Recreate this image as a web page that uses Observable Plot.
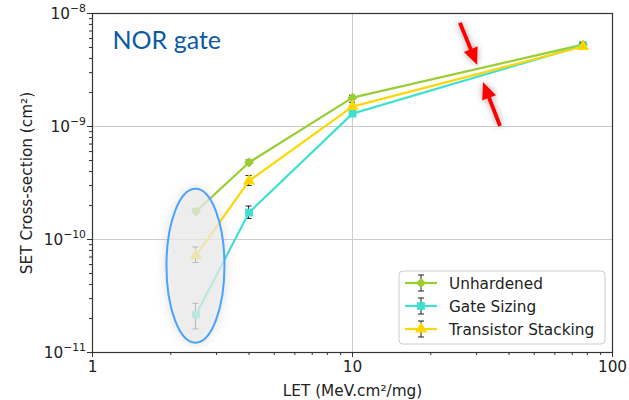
<!DOCTYPE html>
<html>
<head>
<meta charset="utf-8">
<script src="https://cdn.jsdelivr.net/npm/d3@7"></script>
<script src="https://cdn.jsdelivr.net/npm/@observablehq/plot@0.6"></script>
<style>
  html, body { margin: 0; padding: 0; background: #fff; }
  #chart { width: 629px; height: 400px; }
</style>
</head>
<body>
<div id="chart"></div>
<script>
// LET values (MeV.cm²/mg)
const letValues = [2.5, 4, 10, 77];

// SET cross-sections (cm²) with error-bar bounds
const unhardened     = [1.77e-10, 4.8e-10, 1.8e-9, 5.3e-9];
const unhardenedLow  = [1.70e-10, 4.6e-10, 1.73e-9, 5.05e-9];
const unhardenedHigh = [1.84e-10, 5.0e-10, 1.87e-9, 5.55e-9];

const gateSizing     = [2.17e-11, 1.73e-10, 1.3e-9, 5.2e-9];
const gateSizingLow  = [1.6e-11, 1.52e-10, 1.24e-9, 4.95e-9];
const gateSizingHigh = [2.7e-11, 1.96e-10, 1.36e-9, 5.45e-9];

const stacking       = [7.2e-11, 3.3e-10, 1.5e-9, 5.1e-9];
const stackingLow    = [6.2e-11, 2.98e-10, 1.4e-9, 4.75e-9];
const stackingHigh   = [8.5e-11, 3.65e-10, 1.62e-9, 5.4e-9];

const seriesNames   = ["Unhardened", "Gate Sizing", "Transistor Stacking"];
const seriesColors  = ["#9acd32", "#40e0d0", "#ffd700"];
const seriesSymbols = ["diamond2", "square", "triangle"];
const seriesR       = [4.5, 4.4, 4.5];

const xTicks = [1, 10, 100];
const xTickLabels = ["1", "10", "100"];
const yTicks = [1e-11, 1e-10, 1e-9, 1e-8];
const yTickExponents = ["−11", "−10", "−9", "−8"];

// Highlighted low-LET region: centre in data units, radii in pixels
const highlightCenter = [2.5, 5.8e-11];
const highlightRadii = [29, 77];

// Annotation arrows: [x1, y1, x2 (tip), y2 (tip)] in data units
const arrows = [
  [26.0, 8.2e-9, 30.3, 3.47e-9],
  [37.1, 1.0e-9, 31.9, 2.45e-9]
];

const seriesValues = [unhardened, gateSizing, stacking];
const seriesLows = [unhardenedLow, gateSizingLow, stackingLow];
const seriesHighs = [unhardenedHigh, gateSizingHigh, stackingHigh];

const rows = seriesNames.flatMap((name, s) =>
  letValues.map((x, i) => ({
    series: name, s, x, y: seriesValues[s][i],
    lo: seriesLows[s][i], hi: seriesHighs[s][i]
  }))
);

const minorX = [];
for (const d of [1, 10]) for (let k = 2; k <= 9; k++) minorX.push(d * k);
const minorY = [];
for (const d of [1e-11, 1e-10, 1e-9]) for (let k = 2; k <= 9; k++) minorY.push(d * k);

const FONT = "DejaVu Sans, sans-serif";
const FS = 15.3;

const NS = "http://www.w3.org/2000/svg";
function el(tag, attrs) {
  const e = document.createElementNS(NS, tag);
  for (const k in attrs) e.setAttribute(k, attrs[k]);
  return e;
}

// Error bars (vertical stroke + caps) for one series
function errorBars(s) {
  return (index, scales) => {
    const g = el("g", {stroke: "#222", "stroke-width": 1});
    rows.filter(d => d.s === s).forEach(d => {
      const cx = scales.x(d.x), y1 = scales.y(d.lo), y2 = scales.y(d.hi);
      g.appendChild(el("line", {x1: cx, x2: cx, y1, y2}));
      for (const cy of [y1, y2]) g.appendChild(el("line", {x1: cx - 3, x2: cx + 3, y1: cy, y2: cy}));
    });
    return g;
  };
}

// Y tick labels written as 10 with a raised exponent
function yTickLabels(index, scales) {
  const g = el("g", {"font-family": FONT, fill: "#222", "text-anchor": "end"});
  yTicks.forEach((v, i) => {
    const t = el("text", {x: 86, y: scales.y(v) + 5.5, "font-size": FS});
    const base = el("tspan", {});
    base.textContent = "10";
    const sup = el("tspan", {"font-size": 10.8, dy: -7});
    sup.textContent = yTickExponents[i];
    t.appendChild(base);
    t.appendChild(sup);
    g.appendChild(t);
  });
  return g;
}

function highlight(index, scales) {
  const g = el("g", {});
  const defs = el("defs", {});
  const f = el("filter", {id: "glow", x: "-50%", y: "-50%", width: "200%", height: "200%"});
  f.appendChild(el("feGaussianBlur", {stdDeviation: 5}));
  defs.appendChild(f);
  g.appendChild(defs);
  const cx = scales.x(highlightCenter[0]), cy = scales.y(highlightCenter[1]);
  g.appendChild(el("ellipse", {cx, cy, rx: highlightRadii[0] + 3, ry: highlightRadii[1] + 3,
    fill: "#bbb", "fill-opacity": 0.35, filter: "url(#glow)"}));
  g.appendChild(el("ellipse", {cx, cy, rx: highlightRadii[0], ry: highlightRadii[1],
    fill: "#f0f0f0", "fill-opacity": 0.62, stroke: "#4aa3ff", "stroke-width": 2}));
  return g;
}

function arrowMarks(index, scales) {
  const g = el("g", {});
  const defs = el("defs", {});
  const f = el("filter", {id: "ashadow", x: "-50%", y: "-50%", width: "200%", height: "200%"});
  f.appendChild(el("feDropShadow", {dx: 0, dy: 0, stdDeviation: 3, "flood-color": "#888", "flood-opacity": 0.8}));
  defs.appendChild(f);
  g.appendChild(defs);
  arrows.forEach(([a, b, c, d]) => {
    const x1 = scales.x(a), y1 = scales.y(b), x2 = scales.x(c), y2 = scales.y(d);
    const dx = x2 - x1, dy = y2 - y1, len = Math.hypot(dx, dy);
    const ux = dx / len, uy = dy / len, px = -uy, py = ux;
    const hl = 17, hw = 7.5;
    const bx = x2 - ux * hl, by = y2 - uy * hl;
    const ag = el("g", {filter: "url(#ashadow)"});
    ag.appendChild(el("line", {x1, y1, x2: bx + ux * 2, y2: by + uy * 2, stroke: "#ff0000", "stroke-width": 4}));
    ag.appendChild(el("polygon", {
      points: `${x2},${y2} ${bx + px * hw},${by + py * hw} ${bx - px * hw},${by - py * hw}`,
      fill: "#ff0000"
    }));
    g.appendChild(ag);
  });
  return g;
}

function legend() {
  const g = el("g", {"font-family": FONT, "font-size": FS, "text-anchor": "start"});
  const bx = 399, by = 271, bw = 206, bh = 73;
  g.appendChild(el("rect", {x: bx, y: by, width: bw, height: bh, rx: 4, fill: "#fff", "fill-opacity": 0.85, stroke: "#cccccc", "stroke-width": 1}));
  const sym = {diamond2: d3.symbolDiamond2, square: d3.symbolSquare, triangle: d3.symbolTriangle};
  seriesNames.forEach((name, s) => {
    const cy = 283 + s * 23;
    g.appendChild(el("line", {x1: 405, x2: 437, y1: cy, y2: cy, stroke: seriesColors[s], "stroke-width": 2.2}));
    g.appendChild(el("line", {x1: 421, x2: 421, y1: cy - 8, y2: cy + 8, stroke: "#222", "stroke-width": 1}));
    g.appendChild(el("line", {x1: 418, x2: 424, y1: cy - 8, y2: cy - 8, stroke: "#222", "stroke-width": 1}));
    g.appendChild(el("line", {x1: 418, x2: 424, y1: cy + 8, y2: cy + 8, stroke: "#222", "stroke-width": 1}));
    const r = seriesR[s];
    g.appendChild(el("path", {d: d3.symbol(sym[seriesSymbols[s]], Math.PI * r * r)(), transform: `translate(421,${cy})`, fill: seriesColors[s]}));
    const t = el("text", {x: 449, y: cy + 5.5, fill: "#222"});
    t.textContent = name;
    g.appendChild(t);
  });
  return g;
}

const chart = Plot.plot({
  width: 629,
  height: 400,
  marginLeft: 92,
  marginRight: 17,
  marginTop: 13,
  marginBottom: 48,
  style: {fontFamily: FONT, fontSize: "15px", color: "#222", background: "#fff"},
  x: {type: "log", domain: [1, 100]},
  y: {type: "log", domain: [1e-11, 1e-8]},
  marks: [
    Plot.ruleY([1e-10, 1e-9], {stroke: "#cccccc", strokeWidth: 1}),
    Plot.ruleX([10], {stroke: "#cccccc", strokeWidth: 1}),
    Plot.axisX(minorX, {tickSize: 3, tickFormat: () => "", label: null, stroke: "#333"}),
    Plot.axisX(xTicks, {tickSize: 5, tickPadding: 4, tickFormat: d => xTickLabels[xTicks.indexOf(d)],
      label: null, fontSize: FS, fill: "#222", stroke: "#333"}),
    Plot.axisY(minorY, {tickSize: 3, tickFormat: () => "", label: null, stroke: "#333"}),
    Plot.axisY(yTicks, {tickSize: 5, tickFormat: () => "", label: null, stroke: "#333"}),
    yTickLabels,
    Plot.text(["LET (MeV.cm²/mg)"], {frameAnchor: "bottom", dy: 39, lineAnchor: "middle", textAnchor: "middle",
      text: d => d, fontFamily: FONT, fontSize: FS, fill: "#222"}),
    Plot.text(["SET Cross-section (cm²)"], {frameAnchor: "left", dx: -65, rotate: -90, lineAnchor: "middle",
      textAnchor: "middle", text: d => d, fontFamily: FONT, fontSize: FS, fill: "#222"}),
    ...seriesNames.flatMap((name, s) => {
      const data = rows.filter(d => d.s === s);
      return [
        errorBars(s),
        Plot.line(data, {x: "x", y: "y", stroke: seriesColors[s], strokeWidth: 2.2}),
        Plot.dot(data, {x: "x", y: "y", symbol: seriesSymbols[s], r: seriesR[s], fill: seriesColors[s], stroke: "none"})
      ];
    }),
    highlight,
    arrowMarks,
    Plot.text(["NOR gate"], {frameAnchor: "top-left", dx: 20, dy: 18, text: d => d,
      fontFamily: "Lato, sans-serif", fontSize: 25, fill: "#0b5aa5", textAnchor: "start", lineAnchor: "top"}),
    legend,
    Plot.frame({stroke: "#333", strokeWidth: 1.2})
  ]
});

document.getElementById("chart").appendChild(chart);
</script>
</body>
</html>
